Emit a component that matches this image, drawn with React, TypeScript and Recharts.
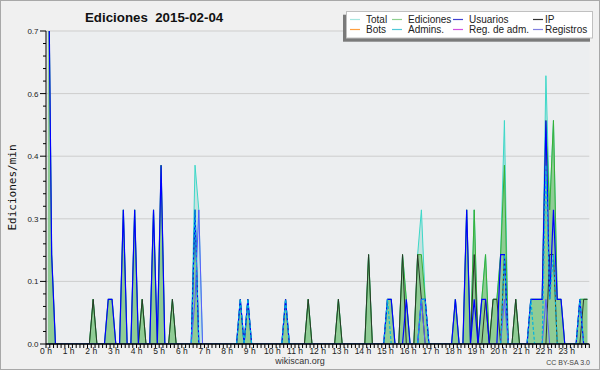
import React from "react"
import { Area, CartesianGrid, ComposedChart, Line, ReferenceLine, XAxis, YAxis } from "recharts"

// edits per minute, one value per 10-minute bin (144 bins, 0 h .. 24 h)
const total = [
  1.0, 0.2, 0, 0, 0, 0, 0, 0, 0, 0, 0, 0,
  0.1, 0, 0, 0, 0.1, 0.1, 0, 0, 0.3, 0, 0, 0.3,
  0, 0.1, 0, 0, 0.3, 0, 0.4, 0, 0, 0.1, 0, 0,
  0, 0, 0, 0.4, 0.3, 0, 0, 0, 0, 0, 0, 0,
  0, 0, 0, 0.1, 0, 0.1, 0, 0, 0, 0, 0, 0,
  0, 0, 0, 0.1, 0, 0, 0, 0, 0, 0.1, 0, 0,
  0, 0, 0, 0, 0, 0.1, 0, 0, 0, 0, 0, 0,
  0, 0.2, 0, 0, 0, 0, 0.1, 0.1, 0, 0, 0.2, 0.1,
  0, 0, 0.2, 0.3, 0.1, 0, 0, 0, 0, 0, 0, 0,
  0.1, 0, 0, 0.3, 0, 0.3, 0, 0.1, 0.2, 0, 0.1, 0.1,
  0.2, 0.5, 0, 0, 0.1, 0, 0, 0, 0.1, 0.1, 0.1, 0.1,
  0.6, 0.3, 0.5, 0.1, 0.1, 0, 0, 0, 0, 0.1, 0.1, 0.1,
]

const ediciones = [
  1.0, 0.2, 0, 0, 0, 0, 0, 0, 0, 0, 0, 0,
  0.1, 0, 0, 0, 0.1, 0.1, 0, 0, 0.3, 0, 0, 0.3,
  0, 0.1, 0, 0, 0.3, 0, 0.4, 0, 0, 0.1, 0, 0,
  0, 0, 0, 0.3, 0, 0, 0, 0, 0, 0, 0, 0,
  0, 0, 0, 0.1, 0, 0.1, 0, 0, 0, 0, 0, 0,
  0, 0, 0, 0.1, 0, 0, 0, 0, 0, 0.1, 0, 0,
  0, 0, 0, 0, 0, 0.1, 0, 0, 0, 0, 0, 0,
  0, 0.2, 0, 0, 0, 0, 0.1, 0.1, 0, 0, 0.2, 0.1,
  0, 0, 0.2, 0.2, 0.1, 0, 0, 0, 0, 0, 0, 0,
  0.1, 0, 0, 0.3, 0, 0.3, 0, 0.1, 0.2, 0, 0.1, 0.1,
  0.2, 0.4, 0, 0, 0.1, 0, 0, 0, 0.1, 0.1, 0.1, 0.1,
  0.5, 0.3, 0.5, 0.1, 0.1, 0, 0, 0, 0, 0.1, 0.1, 0.1,
]

const usuarios = [
  1.0, 0.2, 0, 0, 0, 0, 0, 0, 0, 0, 0, 0,
  0, 0, 0, 0, 0.1, 0.1, 0, 0, 0.3, 0, 0, 0.3,
  0, 0, 0, 0, 0.3, 0, 0.4, 0, 0, 0, 0, 0,
  0, 0, 0, 0.3, 0, 0, 0, 0, 0, 0, 0, 0,
  0, 0, 0, 0.1, 0, 0.1, 0, 0, 0, 0, 0, 0,
  0, 0, 0, 0.1, 0, 0, 0, 0, 0, 0, 0, 0,
  0, 0, 0, 0, 0, 0, 0, 0, 0, 0, 0, 0,
  0, 0, 0, 0, 0, 0, 0.1, 0.1, 0, 0, 0, 0.1,
  0, 0, 0, 0.1, 0.1, 0, 0, 0, 0, 0, 0, 0,
  0.1, 0, 0, 0.3, 0, 0.1, 0, 0.1, 0.1, 0, 0, 0,
  0.2, 0.2, 0, 0, 0, 0, 0, 0, 0.1, 0.1, 0.1, 0.1,
  0.5, 0.1, 0.3, 0.1, 0.1, 0, 0, 0, 0, 0.1, 0, 0,
]

const ip = [
  0, 0, 0, 0, 0, 0, 0, 0, 0, 0, 0, 0,
  0.1, 0, 0, 0, 0, 0, 0, 0, 0, 0, 0, 0,
  0, 0.1, 0, 0, 0, 0, 0, 0, 0, 0.1, 0, 0,
  0, 0, 0, 0, 0, 0, 0, 0, 0, 0, 0, 0,
  0, 0, 0, 0, 0, 0, 0, 0, 0, 0, 0, 0,
  0, 0, 0, 0, 0, 0, 0, 0, 0, 0.1, 0, 0,
  0, 0, 0, 0, 0, 0.1, 0, 0, 0, 0, 0, 0,
  0, 0.2, 0, 0, 0, 0, 0, 0, 0, 0, 0.2, 0,
  0, 0, 0.2, 0.1, 0, 0, 0, 0, 0, 0, 0, 0,
  0, 0, 0, 0, 0, 0.2, 0, 0, 0.1, 0, 0.1, 0.1,
  0, 0.2, 0, 0, 0.1, 0, 0, 0, 0, 0, 0, 0,
  0, 0.2, 0.2, 0, 0, 0, 0, 0, 0, 0, 0.1, 0.1,
]

const admins = [
  0, 0, 0, 0, 0, 0, 0, 0, 0, 0, 0, 0,
  0, 0, 0, 0, 0, 0, 0, 0, 0, 0, 0, 0,
  0, 0, 0, 0, 0, 0, 0, 0, 0, 0, 0, 0,
  0, 0, 0, 0.3, 0, 0, 0, 0, 0, 0, 0, 0,
  0, 0, 0, 0.1, 0, 0.1, 0, 0, 0, 0, 0, 0,
  0, 0, 0, 0.1, 0, 0, 0, 0, 0, 0, 0, 0,
  0, 0, 0, 0, 0, 0, 0, 0, 0, 0, 0, 0,
  0, 0, 0, 0, 0, 0, 0.1, 0, 0, 0, 0, 0,
  0, 0, 0, 0.1, 0.1, 0, 0, 0, 0, 0, 0, 0,
  0, 0, 0, 0, 0, 0, 0, 0, 0, 0, 0, 0,
  0, 0.2, 0, 0, 0, 0, 0, 0, 0.1, 0, 0, 0,
  0.4, 0.1, 0.2, 0, 0, 0, 0, 0, 0, 0.1, 0, 0,
]

const registros = [
  0, 0, 0, 0, 0, 0, 0, 0, 0, 0, 0, 0,
  0, 0, 0, 0, 0, 0, 0, 0, 0, 0, 0, 0,
  0, 0, 0, 0, 0, 0, 0, 0, 0, 0, 0, 0,
  0, 0, 0, 0.1, 0.3, 0, 0, 0, 0, 0, 0, 0,
  0, 0, 0, 0, 0, 0, 0, 0, 0, 0, 0, 0,
  0, 0, 0, 0, 0, 0, 0, 0, 0, 0, 0, 0,
  0, 0, 0, 0, 0, 0, 0, 0, 0, 0, 0, 0,
  0, 0, 0, 0, 0, 0, 0, 0, 0, 0, 0, 0,
  0, 0, 0, 0.1, 0, 0, 0, 0, 0, 0, 0, 0,
  0, 0, 0, 0, 0, 0, 0, 0, 0, 0, 0, 0,
  0, 0.1, 0, 0, 0, 0, 0, 0, 0, 0, 0, 0,
  0.1, 0, 0, 0, 0, 0, 0, 0, 0, 0, 0, 0,
]

const yMax = 0.7
const yMajor = [0, 0.14, 0.28, 0.42, 0.56, 0.7]
const yMinor = Array.from({ length: 26 }, (_, k) => +(k * 0.028).toFixed(3))
const xTicks = Array.from({ length: 145 }, (_, k) => k * 10)

const legendItems = [
  { label: "Total", color: "#a6e6e0" },
  { label: "Ediciones", color: "#8fd08f" },
  { label: "Usuarios", color: "#4040d0" },
  { label: "IP", color: "#333333" },
  { label: "Bots", color: "#ffa040" },
  { label: "Admins.", color: "#50c8d8" },
  { label: "Reg. de adm.", color: "#d050e0" },
  { label: "Registros", color: "#8080e0" },
]
const legendCols = [
  { sx: 350, tx: 366 },
  { sx: 392, tx: 408 },
  { sx: 453, tx: 469 },
  { sx: 533, tx: 545 },
]

const data = total.map((t, i) => ({
  minute: i * 10 + 5,
  total: t,
  ediciones: ediciones[i],
  usuarios: usuarios[i],
  ip: ip[i],
  admins: admins[i],
  registros: registros[i],
}))

const font = "'Liberation Sans', Arial, sans-serif"

const XTick = (props: any) => {
  const { x, y, payload } = props
  const m = payload.value
  const isHour = m % 60 === 0 && m < 1440
  return (
    <g>
      <line x1={x} x2={x} y1={y} y2={y + 4} stroke="#000" />
      {isHour && (
        <text x={x} y={y + 10} textAnchor="middle" fontSize={8.5} fontFamily={font} fill="#222">
          {`${m / 60} h`}
        </text>
      )}
    </g>
  )
}

const YTick = (props: any) => {
  const { x, y, payload, index } = props
  const major = index % 5 === 0
  return (
    <g>
      <line x1={x - (major ? 6 : 3)} x2={x} y1={y} y2={y} stroke="#000" />
      {major && (
        <text x={x - 7.5} y={y + 3} textAnchor="end" fontSize={8} fontFamily={font} fill="#222">
          {payload.value.toFixed(1)}
        </text>
      )}
    </g>
  )
}

// horizontal grid only at the labelled values
const gridRows = ({ offset }: any) =>
  yMajor.map((v) => offset.top + offset.height * (1 - v / yMax))

export default function App() {
  return (
    <div style={{ position: "absolute", left: 0, top: 0, width: 600, height: 370, background: "#f0f0f0" }}>
      <ComposedChart width={600} height={370} data={data} margin={{ top: 31, right: 10.7, left: 0, bottom: 0 }}>
        <CartesianGrid vertical={false} fill="#eceef0" stroke="#cdcdcd" horizontalCoordinatesGenerator={gridRows} />
        <XAxis
          dataKey="minute"
          type="number"
          domain={[0, 1440]}
          ticks={xTicks}
          interval={0}
          tickSize={0}
          tickMargin={0}
          tickLine={false}
          tick={<XTick />}
          height={26}
          axisLine={{ stroke: "#000" }}
        />
        <YAxis
          type="number"
          domain={[0, yMax]}
          allowDataOverflow
          ticks={yMinor}
          interval={0}
          tickSize={0}
          tickMargin={0}
          tickLine={false}
          tick={<YTick />}
          width={46}
          axisLine={{ stroke: "#000" }}
        />
        <Area type="linear" dataKey="total" stroke="#3cd8c8" strokeWidth={1} fill="#9fd6cf" fillOpacity={0.5} dot={false} activeDot={false} isAnimationActive={false} />
        <Area type="linear" dataKey="ediciones" stroke="#36b036" strokeWidth={1} fill="#7cc47c" fillOpacity={0.75} dot={false} activeDot={false} isAnimationActive={false} />
        <Line type="linear" dataKey="ip" stroke="#283828" strokeWidth={1} dot={false} activeDot={false} isAnimationActive={false} />
        <Line type="linear" dataKey="usuarios" stroke="#0000ff" strokeWidth={1.2} dot={false} activeDot={false} isAnimationActive={false} />
        <Line type="linear" dataKey="registros" stroke="#5a5aff" strokeWidth={1} dot={false} activeDot={false} isAnimationActive={false} />
        <Line type="linear" dataKey="admins" stroke="#00b4e0" strokeWidth={1.2} strokeDasharray="3 2" dot={false} activeDot={false} isAnimationActive={false} />
        <ReferenceLine y={0} stroke="#000" />
      </ComposedChart>
      <svg width={600} height={370} style={{ position: "absolute", left: 0, top: 0, pointerEvents: "none" }}>
        <rect x={0.5} y={0.5} width={599} height={369} fill="none" stroke="#a8a8a8" />
        <text x={85} y={22} fontSize={13.3} fontWeight="bold" fontFamily={font} fill="#111" style={{ whiteSpace: "pre" }}>
          {"Ediciones  2015-02-04"}
        </text>
        <text
          x={16}
          y={187.5}
          transform="rotate(-90 16 187.5)"
          textAnchor="middle"
          fontSize={11}
          fontFamily="'DejaVu Sans Mono', monospace"
          fill="#111"
        >
          Ediciones/min
        </text>
        <text x={300} y={364} textAnchor="middle" fontSize={9} fontFamily={font} fill="#333">
          wikiscan.org
        </text>
        <text x={590} y={365} textAnchor="end" fontSize={7} fontFamily={font} fill="#444">
          CC BY-SA 3.0
        </text>
        <rect x={343} y={14.7} width={247} height={27} fill="#7a7a7a" />
        <rect x={346.5} y={11.5} width={246} height={26.5} fill="#fff" stroke="#c0c0c0" />
        {legendItems.map((it, i) => {
          const col = legendCols[i % 4]
          const row = Math.floor(i / 4)
          const ly = row === 0 ? 19.5 : 29.5
          return (
            <g key={it.label}>
              <line x1={col.sx} x2={col.sx + 10} y1={ly} y2={ly} stroke={it.color} strokeWidth={1.2} />
              <text x={col.tx} y={ly + 3.5} fontSize={10} fontFamily={font} fill="#222">
                {it.label}
              </text>
            </g>
          )
        })}
      </svg>
    </div>
  )
}
